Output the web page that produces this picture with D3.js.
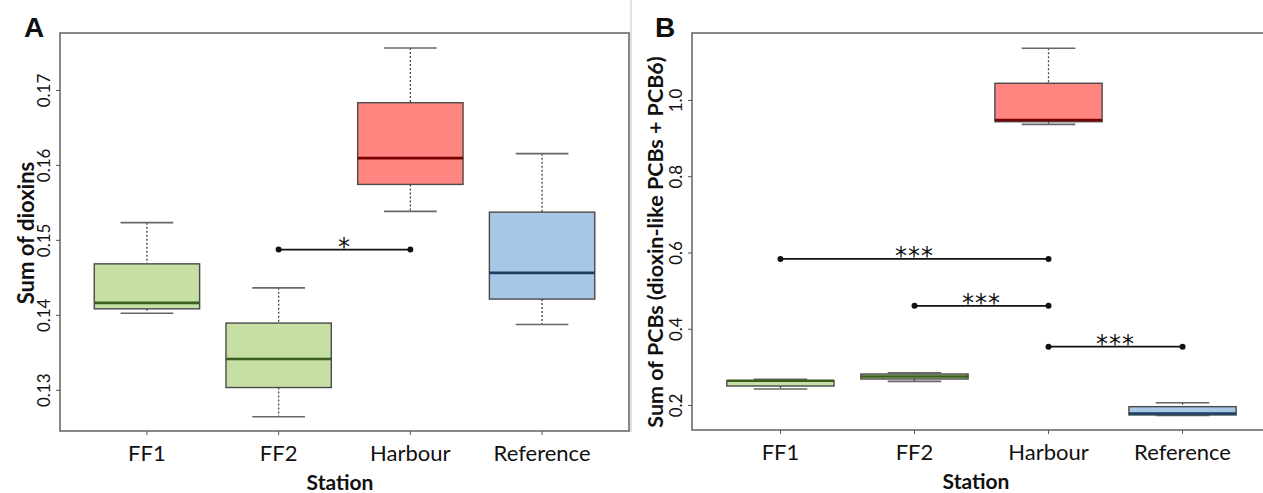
<!DOCTYPE html>
<html>
<head>
<meta charset="utf-8">
<script src="https://cdn.jsdelivr.net/npm/d3@7.9.0/dist/d3.min.js"></script>
<style>
  body { margin: 0; background: #fff; }
  text { font-family: Lato, "Open Sans", sans-serif; fill: #111; }
</style>
</head>
<body>
<svg id="chart" width="1263" height="493"></svg>
<script>
// Stations on the x axis
const stations = ['FF1', 'FF2', 'Harbour', 'Reference'];

// Panel A: sum of dioxins, five-number summaries per station
const dioxinLow    = [0.1402, 0.1264, 0.1538, 0.1387];
const dioxinQ1     = [0.1408, 0.1303, 0.1574, 0.1421];
const dioxinMedian = [0.1416, 0.1341, 0.1609, 0.1456];
const dioxinQ3     = [0.1468, 0.1389, 0.1683, 0.1537];
const dioxinHigh   = [0.1523, 0.1436, 0.1756, 0.1615];
const dioxinTicks  = [0.13, 0.14, 0.15, 0.16, 0.17];
const dioxinSig    = [['FF2', 'Harbour', 0.1487, '*']];

// Panel B: sum of PCBs (dioxin-like PCBs + PCB6)
const pcbLow    = [0.242, 0.262, 0.936, 0.1725];
const pcbQ1     = [0.2498, 0.2682, 0.943, 0.1738];
const pcbMedian = [0.2637, 0.2748, 0.9475, 0.1777];
const pcbQ3     = [0.2637, 0.2813, 1.0438, 0.1956];
const pcbHigh   = [0.2673, 0.2847, 1.1357, 0.206];
const pcbTicks  = ['0.2', '0.4', '0.6', '0.8', '1.0'];
const pcbSig    = [
  ['FF1', 'Harbour', 0.583, '***'],
  ['FF2', 'Harbour', 0.460, '***'],
  ['Harbour', 'Reference', 0.353, '***']
];

const fills   = { FF1: '#c5dfa4', FF2: '#c5dfa4', Harbour: '#ff8680', Reference: '#a8c7e6' };
const medians = { FF1: '#3b5e1c', FF2: '#3b5e1c', Harbour: '#7a0000', Reference: '#1d3d62' };

const svg = d3.select('#chart');

// faint frame line between the two panels, from the source image
svg.append('line').attr('x1', 631).attr('x2', 631).attr('y1', 0).attr('y2', 432)
   .attr('stroke', '#d8d8d8').attr('stroke-width', 1.5);

function drawPanel(opt) {
  const { left, right, top, bottom, yDomain, low, q1, med, q3, high, ticks, sig } = opt;
  const g = svg.append('g');

  // R-like spacing: 4 boxes over [0.34, 4.66]
  const xs = d3.scaleLinear().domain([0.34, 4.66]).range([left, right]);
  const xPos = s => xs(stations.indexOf(s) + 1);
  const step = xs(2) - xs(1);
  const boxW = step * 0.8;
  const capW = boxW * 0.5;

  const y = d3.scaleLinear().domain(yDomain).range([bottom, top]);

  // plot frame
  g.append('rect')
    .attr('x', left).attr('y', top)
    .attr('width', right - left).attr('height', bottom - top)
    .attr('fill', 'none').attr('stroke', '#6b6b6b').attr('stroke-width', 1.6);

  // y axis
  const yAxis = d3.axisLeft(y).tickValues(ticks.map(Number)).tickSize(4)
    .tickFormat((d, i) => String(ticks[i]));
  const ya = g.append('g').attr('transform', `translate(${left},0)`).call(yAxis);
  ya.select('.domain').remove();
  ya.selectAll('.tick line').attr('stroke', '#555');
  ya.selectAll('.tick text')
    .attr('x', 0).attr('dy', 0)
    .attr('transform', 'translate(-10,0) rotate(-90)')
    .attr('text-anchor', 'middle')
    .style('font-family', 'Lato, sans-serif')
    .style('font-size', '17px').attr('fill', '#222');

  // x axis
  const xa = g.append('g').attr('transform', `translate(0,${bottom})`);
  stations.forEach(s => {
    xa.append('line').attr('x1', xPos(s)).attr('x2', xPos(s)).attr('y1', 0).attr('y2', 4)
      .attr('stroke', '#555');
    xa.append('text').attr('x', xPos(s)).attr('y', 30)
      .attr('text-anchor', 'middle').style('font-size', '22px').attr('fill', '#222').text(s);
  });

  // boxes
  stations.forEach((s, i) => {
    const cx = xPos(s);
    const bg = g.append('g');
    // whiskers
    [[high[i], q3[i]], [q1[i], low[i]]].forEach(([a, b]) => {
      bg.append('line').attr('x1', cx).attr('x2', cx).attr('y1', y(a)).attr('y2', y(b))
        .attr('stroke', '#444').attr('stroke-width', 1.3).attr('stroke-dasharray', '2,2');
    });
    [high[i], low[i]].forEach(v => {
      bg.append('line').attr('x1', cx - capW / 2).attr('x2', cx + capW / 2)
        .attr('y1', y(v)).attr('y2', y(v))
        .attr('stroke', '#666').attr('stroke-width', 1.6);
    });
    bg.append('rect')
      .attr('x', cx - boxW / 2).attr('y', y(q3[i]))
      .attr('width', boxW).attr('height', Math.max(1, y(q1[i]) - y(q3[i])))
      .attr('fill', fills[s]).attr('stroke', '#4a4a4a').attr('stroke-width', 1.4);
    bg.append('line').attr('x1', cx - boxW / 2).attr('x2', cx + boxW / 2)
      .attr('y1', y(med[i])).attr('y2', y(med[i]))
      .attr('stroke', medians[s]).attr('stroke-width', 2.6);
  });

  // significance bars
  sig.forEach(([a, b, v, label]) => {
    const x1 = xPos(a), x2 = xPos(b), yy = y(v);
    g.append('line').attr('x1', x1).attr('x2', x2).attr('y1', yy).attr('y2', yy)
      .attr('stroke', '#111').attr('stroke-width', 1.8);
    [x1, x2].forEach(px => g.append('circle').attr('cx', px).attr('cy', yy).attr('r', 3).attr('fill', '#111'));
    g.append('text').attr('x', (x1 + x2) / 2).attr('y', yy + 5)
      .attr('text-anchor', 'middle')
      .style('font-family', '"DejaVu Sans", sans-serif').style('font-size', '24px')
      .attr('letter-spacing', '1px')
      .attr('fill', '#222').text(label);
  });
}

drawPanel({
  left: 60, right: 629, top: 33, bottom: 431,
  yDomain: [0.1245, 0.1776],
  low: dioxinLow, q1: dioxinQ1, med: dioxinMedian, q3: dioxinQ3, high: dioxinHigh,
  ticks: dioxinTicks, sig: dioxinSig
});

drawPanel({
  left: 692, right: 1271, top: 33, bottom: 430,
  yDomain: [0.1344, 1.1757],
  low: pcbLow, q1: pcbQ1, med: pcbMedian, q3: pcbQ3, high: pcbHigh,
  ticks: pcbTicks, sig: pcbSig
});

// panel letters
svg.append('text').attr('x', 24).attr('y', 37).style('font-family', 'Liberation Sans, Arial, sans-serif')
  .style('font-size', '28px').style('font-weight', 'bold').text('A');
svg.append('text').attr('x', 655).attr('y', 37).style('font-family', 'Liberation Sans, Arial, sans-serif')
  .style('font-size', '28px').style('font-weight', 'bold').text('B');

// axis titles
svg.append('text').attr('transform', 'translate(34,233) rotate(-90)')
  .attr('text-anchor', 'middle').style('font-size', '22px').style('font-weight', 'bold').text('Sum of dioxins');
svg.append('text').attr('transform', 'translate(663,242) rotate(-90)')
  .attr('text-anchor', 'middle').style('font-size', '21.5px').style('font-weight', 'bold')
  .text('Sum of PCBs (dioxin-like PCBs + PCB6)');
svg.append('text').attr('x', 340).attr('y', 490)
  .attr('text-anchor', 'middle').style('font-size', '21px').style('font-weight', 'bold').text('Station');
svg.append('text').attr('x', 976).attr('y', 489)
  .attr('text-anchor', 'middle').style('font-size', '21px').style('font-weight', 'bold').text('Station');
</script>
</body>
</html>
